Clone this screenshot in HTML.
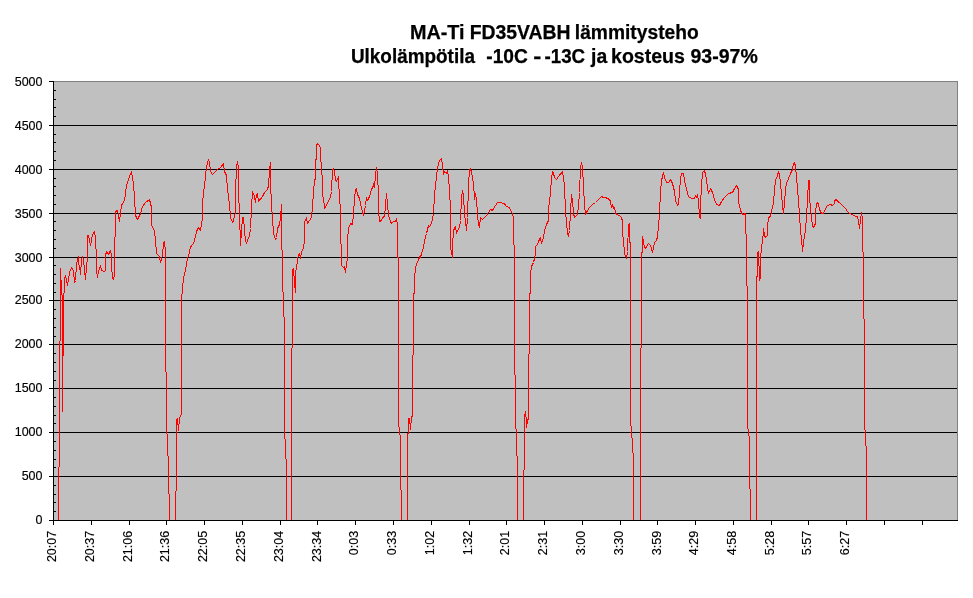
<!DOCTYPE html>
<html lang="fi"><head><meta charset="utf-8"><title>MA-Ti FD35VABH lämmitysteho</title>
<style>html,body{margin:0;padding:0;background:#fff}svg{display:block}text{font-family:"Liberation Sans",sans-serif;fill:#000}</style></head><body>
<svg width="973" height="598" viewBox="0 0 973 598">
<rect width="973" height="598" fill="#fff"/>
<rect x="53" y="81" width="905" height="440" fill="#c0c0c0" shape-rendering="crispEdges"/>
<g shape-rendering="crispEdges" fill="#808080"><rect x="53" y="81" width="905" height="1"/><rect x="957" y="81" width="1" height="440"/></g>
<g shape-rendering="crispEdges" fill="#000"><rect x="53" y="125" width="904" height="1"/><rect x="53" y="169" width="904" height="1"/><rect x="53" y="213" width="904" height="1"/><rect x="53" y="257" width="904" height="1"/><rect x="53" y="300" width="904" height="1"/><rect x="53" y="344" width="904" height="1"/><rect x="53" y="388" width="904" height="1"/><rect x="53" y="432" width="904" height="1"/><rect x="53" y="476" width="904" height="1"/></g>
<polyline points="58.5,520.5 58.5,467.5 59.5,466.5 59.5,341.5 60.5,340.5 60.5,268.5 60.5,279.5 61.5,280.5 61.5,294.5 62.5,295.5 62.5,411.5 62.5,356.5 63.5,355.5 63.5,293.5 64.5,292.5 64.5,278.5 65.5,275.5 67.5,285.5 69.5,272.5 71.5,267.5 73.5,270.5 74.5,282.5 75.5,280.5 76.5,263.5 78.5,256.5 78.5,264.5 79.5,265.5 80.5,274.5 81.5,259.5 82.5,256.5 83.5,259.5 84.5,269.5 85.5,279.5 86.5,267.5 87.5,256.5 87.5,235.5 88.5,235.5 90.5,245.5 92.5,234.5 94.5,231.5 95.5,237.5 95.5,248.5 96.5,249.5 96.5,270.5 97.5,277.5 98.5,271.5 100.5,265.5 101.5,270.5 104.5,271.5 105.5,270.5 105.5,255.5 106.5,251.5 108.5,254.5 110.5,250.5 111.5,255.5 111.5,265.5 112.5,278.5 113.5,279.5 114.5,274.5 114.5,237.5 115.5,236.5 115.5,211.5 117.5,210.5 119.5,221.5 121.5,205.5 124.5,200.5 126.5,185.5 129.5,176.5 131.5,171.5 133.5,183.5 134.5,198.5 135.5,215.5 137.5,219.5 140.5,213.5 142.5,206.5 145.5,202.5 149.5,199.5 151.5,207.5 151.5,225.5 154.5,230.5 155.5,240.5 156.5,253.5 159.5,256.5 160.5,262.5 162.5,255.5 163.5,243.5 164.5,241.5 165.5,251.5 165.5,371.5 166.5,372.5 166.5,433.5 167.5,434.5 167.5,455.5 168.5,456.5 168.5,493.5 169.5,494.5 169.5,520.5 175.5,520.5 175.5,491.5 176.5,490.5 176.5,420.5 177.5,418.5 178.5,430.5 179.5,417.5 181.5,414.5 181.5,300.5 182.5,288.5 183.5,277.5 185.5,270.5 187.5,258.5 189.5,252.5 190.5,246.5 192.5,245.5 194.5,240.5 196.5,231.5 198.5,227.5 200.5,230.5 202.5,217.5 202.5,202.5 203.5,193.5 205.5,176.5 206.5,166.5 208.5,159.5 209.5,162.5 210.5,171.5 212.5,174.5 217.5,169.5 220.5,167.5 223.5,163.5 224.5,171.5 226.5,175.5 227.5,189.5 229.5,204.5 230.5,217.5 232.5,222.5 233.5,220.5 235.5,211.5 235.5,191.5 236.5,167.5 237.5,161.5 238.5,167.5 238.5,191.5 239.5,213.5 240.5,245.5 242.5,217.5 243.5,217.5 244.5,230.5 245.5,240.5 246.5,243.5 247.5,240.5 249.5,235.5 250.5,228.5 251.5,207.5 252.5,191.5 254.5,196.5 255.5,202.5 256.5,194.5 257.5,193.5 258.5,201.5 262.5,196.5 264.5,192.5 267.5,189.5 268.5,185.5 269.5,170.5 270.5,162.5 270.5,183.5 271.5,204.5 272.5,218.5 273.5,233.5 275.5,239.5 276.5,237.5 277.5,228.5 279.5,224.5 280.5,217.5 281.5,204.5 281.5,248.5 282.5,251.5 282.5,290.5 283.5,293.5 283.5,316.5 284.5,317.5 284.5,438.5 285.5,439.5 285.5,458.5 286.5,459.5 286.5,520.5 291.5,520.5 291.5,348.5 292.5,347.5 292.5,270.5 293.5,268.5 294.5,282.5 295.5,292.5 295.5,273.5 297.5,260.5 298.5,254.5 299.5,253.5 300.5,258.5 301.5,252.5 303.5,247.5 304.5,240.5 304.5,222.5 306.5,217.5 307.5,223.5 309.5,220.5 311.5,217.5 312.5,207.5 313.5,191.5 314.5,180.5 315.5,178.5 315.5,160.5 316.5,158.5 316.5,145.5 317.5,143.5 319.5,145.5 320.5,148.5 320.5,161.5 321.5,162.5 321.5,174.5 322.5,175.5 322.5,194.5 324.5,205.5 324.5,208.5 327.5,203.5 330.5,196.5 331.5,191.5 332.5,169.5 333.5,168.5 334.5,171.5 335.5,180.5 336.5,181.5 338.5,176.5 338.5,183.5 339.5,194.5 340.5,213.5 340.5,240.5 341.5,247.5 341.5,265.5 343.5,267.5 344.5,266.5 345.5,272.5 346.5,264.5 347.5,257.5 347.5,240.5 348.5,228.5 350.5,223.5 352.5,224.5 353.5,213.5 354.5,198.5 355.5,189.5 356.5,188.5 357.5,194.5 359.5,198.5 361.5,208.5 363.5,215.5 365.5,205.5 366.5,197.5 367.5,200.5 369.5,196.5 371.5,189.5 373.5,185.5 373.5,183.5 374.5,187.5 375.5,174.5 376.5,167.5 377.5,174.5 378.5,194.5 378.5,209.5 379.5,221.5 381.5,220.5 382.5,217.5 384.5,216.5 385.5,205.5 386.5,193.5 387.5,203.5 388.5,215.5 390.5,221.5 391.5,223.5 393.5,221.5 395.5,221.5 396.5,218.5 397.5,224.5 397.5,240.5 397.5,256.5 398.5,258.5 398.5,426.5 399.5,427.5 399.5,434.5 400.5,435.5 400.5,489.5 401.5,490.5 401.5,520.5 407.5,520.5 407.5,435.5 408.5,431.5 408.5,418.5 409.5,418.5 410.5,429.5 411.5,416.5 412.5,416.5 412.5,355.5 413.5,354.5 413.5,294.5 414.5,292.5 414.5,277.5 415.5,269.5 416.5,263.5 418.5,260.5 419.5,256.5 420.5,257.5 421.5,253.5 423.5,247.5 424.5,240.5 426.5,233.5 428.5,225.5 429.5,226.5 431.5,223.5 433.5,213.5 434.5,194.5 436.5,176.5 437.5,167.5 439.5,160.5 441.5,158.5 442.5,165.5 443.5,174.5 444.5,171.5 446.5,173.5 447.5,170.5 448.5,176.5 449.5,191.5 450.5,207.5 450.5,240.5 450.5,247.5 452.5,257.5 452.5,245.5 453.5,230.5 455.5,226.5 456.5,233.5 457.5,230.5 459.5,227.5 460.5,220.5 461.5,198.5 462.5,190.5 463.5,195.5 464.5,214.5 465.5,220.5 466.5,230.5 467.5,217.5 468.5,185.5 469.5,169.5 470.5,168.5 471.5,172.5 473.5,183.5 474.5,197.5 474.5,199.5 475.5,193.5 476.5,199.5 477.5,214.5 478.5,224.5 479.5,227.5 480.5,217.5 482.5,219.5 486.5,215.5 490.5,209.5 492.5,210.5 495.5,205.5 497.5,202.5 501.5,202.5 504.5,204.5 504.5,203.5 506.5,206.5 509.5,207.5 510.5,210.5 512.5,213.5 513.5,218.5 513.5,244.5 514.5,245.5 514.5,374.5 515.5,375.5 515.5,428.5 516.5,429.5 516.5,455.5 517.5,456.5 517.5,520.5 523.5,520.5 523.5,470.5 524.5,469.5 524.5,416.5 525.5,411.5 526.5,421.5 526.5,427.5 527.5,421.5 528.5,417.5 528.5,354.5 529.5,353.5 529.5,294.5 530.5,292.5 530.5,273.5 531.5,266.5 533.5,262.5 534.5,258.5 535.5,253.5 535.5,246.5 537.5,244.5 538.5,241.5 540.5,237.5 541.5,243.5 543.5,237.5 544.5,230.5 546.5,224.5 548.5,220.5 548.5,209.5 550.5,192.5 551.5,178.5 552.5,171.5 553.5,173.5 554.5,177.5 556.5,179.5 558.5,176.5 562.5,171.5 563.5,177.5 564.5,185.5 565.5,211.5 566.5,222.5 567.5,233.5 568.5,236.5 569.5,230.5 570.5,211.5 571.5,194.5 572.5,200.5 573.5,213.5 574.5,217.5 577.5,214.5 578.5,205.5 579.5,192.5 580.5,167.5 581.5,162.5 582.5,167.5 583.5,185.5 584.5,205.5 585.5,214.5 586.5,212.5 589.5,207.5 592.5,204.5 595.5,202.5 598.5,199.5 601.5,196.5 603.5,197.5 605.5,197.5 607.5,198.5 609.5,199.5 610.5,201.5 611.5,207.5 612.5,204.5 613.5,208.5 614.5,207.5 615.5,212.5 616.5,214.5 619.5,215.5 621.5,217.5 622.5,221.5 622.5,232.5 623.5,240.5 624.5,253.5 626.5,258.5 627.5,251.5 628.5,224.5 629.5,223.5 629.5,240.5 630.5,244.5 630.5,425.5 631.5,426.5 631.5,437.5 632.5,438.5 632.5,452.5 633.5,453.5 633.5,520.5 640.5,520.5 640.5,348.5 641.5,347.5 641.5,253.5 642.5,251.5 642.5,236.5 644.5,247.5 645.5,248.5 648.5,243.5 650.5,245.5 652.5,252.5 653.5,247.5 654.5,242.5 656.5,240.5 657.5,236.5 658.5,226.5 659.5,213.5 660.5,191.5 661.5,180.5 663.5,172.5 664.5,177.5 666.5,182.5 668.5,182.5 670.5,179.5 672.5,183.5 674.5,191.5 675.5,200.5 677.5,205.5 678.5,204.5 679.5,192.5 680.5,178.5 681.5,173.5 683.5,173.5 684.5,180.5 686.5,189.5 688.5,196.5 691.5,198.5 694.5,198.5 695.5,195.5 696.5,197.5 697.5,194.5 698.5,200.5 699.5,217.5 700.5,218.5 700.5,204.5 701.5,185.5 702.5,172.5 704.5,170.5 705.5,174.5 706.5,179.5 707.5,187.5 708.5,193.5 710.5,188.5 712.5,192.5 714.5,199.5 716.5,204.5 719.5,205.5 721.5,201.5 724.5,197.5 728.5,193.5 732.5,192.5 734.5,188.5 736.5,185.5 738.5,189.5 738.5,202.5 740.5,209.5 741.5,213.5 743.5,214.5 745.5,213.5 745.5,226.5 746.5,240.5 746.5,285.5 747.5,286.5 747.5,428.5 748.5,429.5 748.5,435.5 749.5,436.5 749.5,488.5 750.5,489.5 750.5,520.5 756.5,520.5 756.5,277.5 757.5,275.5 757.5,252.5 758.5,251.5 759.5,280.5 760.5,277.5 760.5,258.5 761.5,247.5 762.5,240.5 763.5,232.5 763.5,228.5 764.5,235.5 765.5,237.5 767.5,235.5 767.5,226.5 768.5,217.5 770.5,216.5 771.5,211.5 773.5,202.5 774.5,189.5 775.5,180.5 777.5,175.5 778.5,171.5 779.5,174.5 780.5,183.5 781.5,194.5 782.5,205.5 783.5,213.5 784.5,202.5 785.5,189.5 786.5,183.5 788.5,178.5 790.5,173.5 792.5,169.5 793.5,163.5 794.5,162.5 795.5,166.5 796.5,176.5 797.5,189.5 798.5,200.5 799.5,215.5 800.5,230.5 801.5,238.5 802.5,251.5 803.5,242.5 804.5,236.5 805.5,230.5 806.5,215.5 807.5,200.5 808.5,180.5 809.5,180.5 809.5,198.5 810.5,207.5 811.5,218.5 812.5,225.5 813.5,227.5 815.5,223.5 815.5,211.5 816.5,204.5 817.5,202.5 818.5,204.5 819.5,209.5 821.5,213.5 823.5,213.5 825.5,208.5 827.5,205.5 830.5,204.5 832.5,205.5 834.5,203.5 834.5,200.5 836.5,199.5 837.5,201.5 839.5,202.5 842.5,205.5 845.5,208.5 847.5,211.5 849.5,213.5 852.5,214.5 855.5,216.5 857.5,216.5 858.5,221.5 859.5,228.5 860.5,220.5 861.5,212.5 862.5,218.5 862.5,251.5 863.5,252.5 863.5,318.5 864.5,319.5 864.5,429.5 865.5,430.5 865.5,445.5 866.5,446.5 866.5,520.5" fill="none" stroke="#ff0000" stroke-width="1" stroke-linejoin="round" stroke-linecap="round" shape-rendering="crispEdges"/>
<g shape-rendering="crispEdges" fill="#000"><rect x="53" y="81" width="1" height="440"/><rect x="53" y="520" width="905" height="1"/><rect x="49" y="81" width="4" height="1"/><rect x="54" y="90" width="2" height="1"/><rect x="54" y="99" width="2" height="1"/><rect x="54" y="107" width="2" height="1"/><rect x="54" y="116" width="2" height="1"/><rect x="49" y="125" width="4" height="1"/><rect x="54" y="134" width="2" height="1"/><rect x="54" y="142" width="2" height="1"/><rect x="54" y="151" width="2" height="1"/><rect x="54" y="160" width="2" height="1"/><rect x="49" y="169" width="4" height="1"/><rect x="54" y="178" width="2" height="1"/><rect x="54" y="186" width="2" height="1"/><rect x="54" y="195" width="2" height="1"/><rect x="54" y="204" width="2" height="1"/><rect x="49" y="213" width="4" height="1"/><rect x="54" y="221" width="2" height="1"/><rect x="54" y="230" width="2" height="1"/><rect x="54" y="239" width="2" height="1"/><rect x="54" y="248" width="2" height="1"/><rect x="49" y="257" width="4" height="1"/><rect x="54" y="265" width="2" height="1"/><rect x="54" y="274" width="2" height="1"/><rect x="54" y="283" width="2" height="1"/><rect x="54" y="292" width="2" height="1"/><rect x="49" y="300" width="4" height="1"/><rect x="54" y="309" width="2" height="1"/><rect x="54" y="318" width="2" height="1"/><rect x="54" y="327" width="2" height="1"/><rect x="54" y="336" width="2" height="1"/><rect x="49" y="344" width="4" height="1"/><rect x="54" y="353" width="2" height="1"/><rect x="54" y="362" width="2" height="1"/><rect x="54" y="371" width="2" height="1"/><rect x="54" y="380" width="2" height="1"/><rect x="49" y="388" width="4" height="1"/><rect x="54" y="397" width="2" height="1"/><rect x="54" y="406" width="2" height="1"/><rect x="54" y="415" width="2" height="1"/><rect x="54" y="423" width="2" height="1"/><rect x="49" y="432" width="4" height="1"/><rect x="54" y="441" width="2" height="1"/><rect x="54" y="450" width="2" height="1"/><rect x="54" y="459" width="2" height="1"/><rect x="54" y="467" width="2" height="1"/><rect x="49" y="476" width="4" height="1"/><rect x="54" y="485" width="2" height="1"/><rect x="54" y="494" width="2" height="1"/><rect x="54" y="502" width="2" height="1"/><rect x="54" y="511" width="2" height="1"/><rect x="49" y="520" width="4" height="1"/><rect x="53" y="520" width="1" height="5"/><rect x="91" y="520" width="1" height="5"/><rect x="129" y="520" width="1" height="5"/><rect x="166" y="520" width="1" height="5"/><rect x="204" y="520" width="1" height="5"/><rect x="242" y="520" width="1" height="5"/><rect x="280" y="520" width="1" height="5"/><rect x="317" y="520" width="1" height="5"/><rect x="355" y="520" width="1" height="5"/><rect x="393" y="520" width="1" height="5"/><rect x="431" y="520" width="1" height="5"/><rect x="469" y="520" width="1" height="5"/><rect x="506" y="520" width="1" height="5"/><rect x="544" y="520" width="1" height="5"/><rect x="582" y="520" width="1" height="5"/><rect x="620" y="520" width="1" height="5"/><rect x="657" y="520" width="1" height="5"/><rect x="695" y="520" width="1" height="5"/><rect x="733" y="520" width="1" height="5"/><rect x="771" y="520" width="1" height="5"/><rect x="808" y="520" width="1" height="5"/><rect x="846" y="520" width="1" height="5"/><rect x="884" y="520" width="1" height="5"/><rect x="922" y="520" width="1" height="5"/></g>
<text x="42.5" y="85.5" font-size="12.5" text-anchor="end" stroke="#000" stroke-width="0.15">5000</text>
<text x="42.5" y="129.5" font-size="12.5" text-anchor="end" stroke="#000" stroke-width="0.15">4500</text>
<text x="42.5" y="173.5" font-size="12.5" text-anchor="end" stroke="#000" stroke-width="0.15">4000</text>
<text x="42.5" y="217.5" font-size="12.5" text-anchor="end" stroke="#000" stroke-width="0.15">3500</text>
<text x="42.5" y="261.5" font-size="12.5" text-anchor="end" stroke="#000" stroke-width="0.15">3000</text>
<text x="42.5" y="304" font-size="12.5" text-anchor="end" stroke="#000" stroke-width="0.15">2500</text>
<text x="42.5" y="348" font-size="12.5" text-anchor="end" stroke="#000" stroke-width="0.15">2000</text>
<text x="42.5" y="392" font-size="12.5" text-anchor="end" stroke="#000" stroke-width="0.15">1500</text>
<text x="42.5" y="436" font-size="12.5" text-anchor="end" stroke="#000" stroke-width="0.15">1000</text>
<text x="42.5" y="480" font-size="12.5" text-anchor="end" stroke="#000" stroke-width="0.15">500</text>
<text x="42.5" y="523.6" font-size="12.5" text-anchor="end" stroke="#000" stroke-width="0.15">0</text>
<text transform="translate(56.0,530.8) rotate(-90)" font-size="12.5" text-anchor="end" stroke="#000" stroke-width="0.15">20:07</text>
<text transform="translate(93.8,530.8) rotate(-90)" font-size="12.5" text-anchor="end" stroke="#000" stroke-width="0.15">20:37</text>
<text transform="translate(131.6,530.8) rotate(-90)" font-size="12.5" text-anchor="end" stroke="#000" stroke-width="0.15">21:06</text>
<text transform="translate(169.3,530.8) rotate(-90)" font-size="12.5" text-anchor="end" stroke="#000" stroke-width="0.15">21:36</text>
<text transform="translate(207.1,530.8) rotate(-90)" font-size="12.5" text-anchor="end" stroke="#000" stroke-width="0.15">22:05</text>
<text transform="translate(244.9,530.8) rotate(-90)" font-size="12.5" text-anchor="end" stroke="#000" stroke-width="0.15">22:35</text>
<text transform="translate(282.7,530.8) rotate(-90)" font-size="12.5" text-anchor="end" stroke="#000" stroke-width="0.15">23:04</text>
<text transform="translate(320.5,530.8) rotate(-90)" font-size="12.5" text-anchor="end" stroke="#000" stroke-width="0.15">23:34</text>
<text transform="translate(358.2,530.8) rotate(-90)" font-size="12.5" text-anchor="end" stroke="#000" stroke-width="0.15">0:03</text>
<text transform="translate(396.0,530.8) rotate(-90)" font-size="12.5" text-anchor="end" stroke="#000" stroke-width="0.15">0:33</text>
<text transform="translate(433.8,530.8) rotate(-90)" font-size="12.5" text-anchor="end" stroke="#000" stroke-width="0.15">1:02</text>
<text transform="translate(471.6,530.8) rotate(-90)" font-size="12.5" text-anchor="end" stroke="#000" stroke-width="0.15">1:32</text>
<text transform="translate(509.4,530.8) rotate(-90)" font-size="12.5" text-anchor="end" stroke="#000" stroke-width="0.15">2:01</text>
<text transform="translate(547.1,530.8) rotate(-90)" font-size="12.5" text-anchor="end" stroke="#000" stroke-width="0.15">2:31</text>
<text transform="translate(584.9,530.8) rotate(-90)" font-size="12.5" text-anchor="end" stroke="#000" stroke-width="0.15">3:00</text>
<text transform="translate(622.7,530.8) rotate(-90)" font-size="12.5" text-anchor="end" stroke="#000" stroke-width="0.15">3:30</text>
<text transform="translate(660.5,530.8) rotate(-90)" font-size="12.5" text-anchor="end" stroke="#000" stroke-width="0.15">3:59</text>
<text transform="translate(698.3,530.8) rotate(-90)" font-size="12.5" text-anchor="end" stroke="#000" stroke-width="0.15">4:29</text>
<text transform="translate(736.0,530.8) rotate(-90)" font-size="12.5" text-anchor="end" stroke="#000" stroke-width="0.15">4:58</text>
<text transform="translate(773.8,530.8) rotate(-90)" font-size="12.5" text-anchor="end" stroke="#000" stroke-width="0.15">5:28</text>
<text transform="translate(810.9,530.8) rotate(-90)" font-size="12.5" text-anchor="end" stroke="#000" stroke-width="0.15">5:57</text>
<text transform="translate(849.4,530.8) rotate(-90)" font-size="12.5" text-anchor="end" stroke="#000" stroke-width="0.15">6:27</text>
<text y="38.7" font-size="19.5" font-weight="bold" stroke="#000" stroke-width="0.25"><tspan x="409.94" textLength="54.63" lengthAdjust="spacingAndGlyphs">MA-Ti</tspan> <tspan x="469.68" textLength="100.95" lengthAdjust="spacingAndGlyphs">FD35VABH</tspan> <tspan x="574.85" textLength="123.84" lengthAdjust="spacingAndGlyphs">lämmitysteho</tspan></text>
<text y="62.6" font-size="19.5" font-weight="bold" stroke="#000" stroke-width="0.25"><tspan x="350.92" textLength="124.03" lengthAdjust="spacingAndGlyphs">Ulkolämpötila</tspan> <tspan x="486.29" textLength="41.56" lengthAdjust="spacingAndGlyphs">-10C</tspan> <tspan x="533.26" textLength="8.01" lengthAdjust="spacingAndGlyphs">-</tspan> <tspan x="544.52" textLength="40.63" lengthAdjust="spacingAndGlyphs">-13C</tspan> <tspan x="591.03" textLength="16.13" lengthAdjust="spacingAndGlyphs">ja</tspan> <tspan x="611.04" textLength="73.91" lengthAdjust="spacingAndGlyphs">kosteus</tspan> <tspan x="690.44" textLength="67.31" lengthAdjust="spacingAndGlyphs">93-97%</tspan></text>
</svg></body></html>
